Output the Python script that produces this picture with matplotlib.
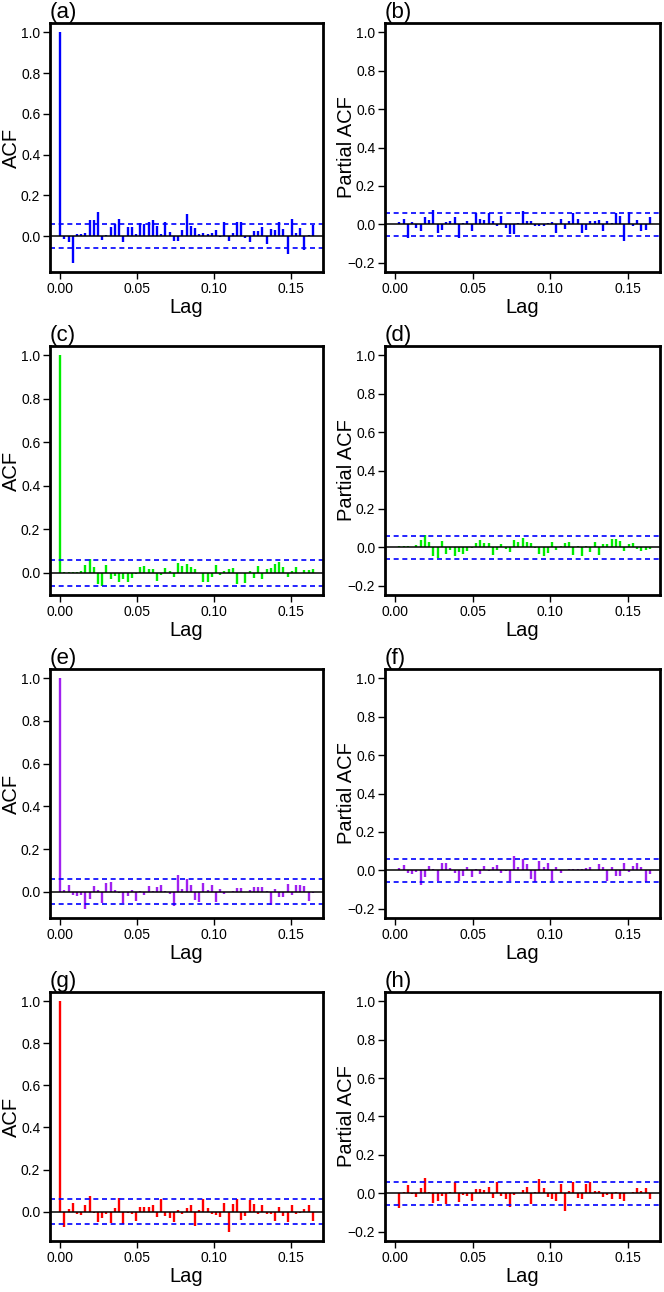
import matplotlib
matplotlib.use('Agg')
import matplotlib.pyplot as plt
import numpy as np

plt.rcParams.update({
    'font.family': ['Liberation Sans', 'DejaVu Sans'],
    'xtick.labelsize': 10, 'ytick.labelsize': 10,
})

FREQ = 365          # daily series, lag axis in years
N_LAG = 60
CI = 0.059          # 1.96/sqrt(n)

# ACF values for lags 1..60 (lag 0 is 1.0)
acf_a = [-0.015, -0.03, -0.13, 0.012, 0.012, 0.015, 0.08, 0.08, 0.12, -0.018,
         0.005, 0.045, 0.06, 0.085, -0.03, 0.043, 0.043, 0.012, 0.065, 0.06,
         0.07, 0.078, 0.048, 0.01, 0.07, 0.022, -0.025, -0.025, 0.033, 0.108,
         0.05, 0.042, 0.01, 0.018, 0.01, 0.018, 0.033, -0.005, 0.072, -0.025,
         0.018, 0.072, 0.068, -0.01, -0.03, 0.025, 0.028, 0.045, -0.038, 0.035,
         0.03, 0.068, 0.035, -0.085, 0.085, 0.015, 0.04, -0.065, 0.005, 0.055]
pacf_b = [0.01, 0.03, -0.07, 0.01, -0.02, -0.035, 0.04, 0.025, 0.075, -0.045,
          -0.03, 0.012, 0.015, 0.04, -0.07, 0.005, 0.02, -0.035, 0.06, 0.03,
          0.025, 0.06, 0.02, -0.01, 0.045, -0.02, -0.05, -0.05, 0.005, 0.07,
          0.02, 0.015, -0.01, -0.01, -0.008, 0.005, 0.012, -0.045, 0.03, -0.025,
          0.02, 0.06, 0.03, -0.045, -0.03, 0.015, 0.02, 0.025, -0.035, 0.015,
          0.005, 0.06, 0.045, -0.085, 0.065, -0.01, 0.025, -0.035, -0.03, 0.04]
acf_c = [0.005, 0.005, 0.005, 0.003, 0.01, 0.038, 0.065, 0.028, -0.05, -0.058,
         0.035, -0.03, -0.012, -0.04, -0.028, -0.04, -0.022, -0.003, 0.025, 0.032,
         0.02, 0.02, -0.038, -0.01, 0.022, 0.01, -0.018, 0.045, 0.03, 0.043,
         0.028, 0.02, -0.002, -0.04, -0.04, -0.02, 0.037, -0.01, 0.01, 0.018,
         0.022, -0.05, -0.002, -0.045, 0.01, -0.022, 0.032, -0.027, 0.017, 0.022,
         0.043, 0.05, 0.028, -0.02, 0.01, 0.028, -0.002, 0.012, 0.012, 0.018]
pacf_d = [0.005, 0.005, 0.005, 0.003, 0.01, 0.036, 0.065, 0.027, -0.046, -0.058,
          0.034, -0.033, -0.015, -0.046, -0.026, -0.033, -0.02, -0.003, 0.022, 0.036,
          0.022, 0.022, -0.038, -0.012, 0.019, -0.01, -0.026, 0.04, 0.03, 0.048,
          0.03, 0.022, -0.005, -0.035, -0.046, -0.03, 0.027, -0.012, 0.005, 0.022,
          0.03, -0.038, 0.008, -0.046, 0.008, -0.024, 0.029, -0.038, 0.017, 0.02,
          0.043, 0.046, 0.034, -0.02, 0.02, 0.022, -0.008, -0.02, -0.016, -0.007]
acf_e = [0.01, 0.03, -0.017, -0.019, -0.014, -0.08, -0.033, 0.025, 0.006, -0.054,
         0.041, 0.044, 0.01, -0.006, -0.055, -0.019, 0.01, -0.043, 0.005, -0.014,
         0.028, 0.005, 0.02, 0.033, 0.005, -0.011, -0.065, 0.077, 0.014, 0.06,
         0.033, -0.038, -0.046, 0.04, 0.01, 0.033, -0.05, 0.011, -0.011, -0.002,
         0.005, 0.016, 0.016, -0.002, 0.01, 0.02, 0.02, 0.024, 0.005, -0.062,
         0.011, -0.025, -0.027, 0.036, -0.014, 0.03, 0.032, 0.025, -0.043, -0.006]
pacf_f = [0.012, 0.027, -0.015, -0.017, -0.01, -0.078, -0.032, 0.024, 0.007, -0.056,
          0.036, 0.036, 0.01, -0.015, -0.053, -0.027, 0.015, -0.036, 0.007, -0.019,
          0.024, -0.002, 0.015, 0.029, -0.015, -0.002, -0.053, 0.073, 0.019, 0.058,
          0.032, -0.044, -0.061, 0.049, 0.015, 0.036, -0.053, 0.015, -0.015, 0.003,
          0.005, 0.005, 0.007, 0.005, 0.012, 0.02, 0.003, 0.032, 0.015, -0.058,
          0.015, -0.027, -0.027, 0.036, -0.01, 0.024, 0.036, 0.019, -0.061, -0.019]
acf_g = [-0.075, 0.011, 0.043, -0.013, -0.016, 0.029, 0.075, -0.008, -0.048, -0.029,
         -0.013, -0.056, 0.016, 0.064, -0.059, -0.008, -0.013, -0.045, 0.021, 0.024,
         0.022, 0.029, -0.027, 0.059, -0.019, -0.032, -0.048, 0.008, -0.01, 0.016,
         0.032, -0.067, 0.008, 0.059, 0.016, -0.011, -0.016, -0.024, 0.04, -0.096,
         0.037, 0.059, -0.04, -0.019, 0.056, 0.035, -0.01, 0.029, -0.011, -0.011,
         -0.043, 0.024, -0.019, -0.048, 0.032, -0.01, -0.008, 0.014, 0.03, -0.043]
pacf_h = [-0.076, 0.007, 0.042, -0.005, -0.018, 0.026, 0.079, 0.009, -0.049, -0.04,
          -0.016, -0.055, 0.009, 0.06, -0.046, -0.009, -0.014, -0.04, 0.021, 0.021,
          0.018, 0.035, -0.023, 0.06, -0.014, -0.032, -0.07, -0.009, 0.004, 0.018,
          0.033, -0.058, 0.007, 0.074, 0.026, -0.018, -0.028, -0.04, 0.051, -0.09,
          0.012, 0.06, -0.023, -0.032, 0.051, 0.06, 0.012, 0.012, -0.018, -0.009,
          -0.028, 0.007, -0.028, -0.04, 0.004, 0.007, 0.026, 0.012, 0.026, -0.028]

colors = ['#0000FF', '#00EE00', '#A020F0', '#FF0000']
acf_list = [acf_a, acf_c, acf_e, acf_g]
pacf_list = [pacf_b, pacf_d, pacf_f, pacf_h]
panel_labels = [('(a)', '(b)'), ('(c)', '(d)'), ('(e)', '(f)'), ('(g)', '(h)')]

W, H = 664, 1292
fig = plt.figure(figsize=(W / 100, H / 100), dpi=100)


def r_range(lo, hi):
    pad = 0.04 * (hi - lo)
    return lo - pad, hi + pad


def draw(ax, lags, vals, col, ylim, ylabel, label, ylab_x):
    ax.vlines(lags, 0, vals, color=col, lw=1.7)
    ax.axhline(0, color='black', lw=1.1)
    for c in (CI, -CI):
        ax.axhline(c, color='#0000FF', lw=1.2, ls=(0, (3, 2.2)))
    ax.set_xlim(*r_range(0, N_LAG / FREQ))
    ax.set_ylim(*ylim)
    ax.set_xticks([0, 0.05, 0.10, 0.15])
    ax.set_xticklabels(['0.00', '0.05', '0.10', '0.15'])
    yt = np.arange(-0.2, 1.01, 0.2)
    yt = yt[yt >= ylim[0]]
    ax.set_yticks(yt)
    ax.set_yticklabels([f'{v:.1f}'.replace('-', '\u2212') for v in yt])
    ax.tick_params(direction='out', length=5, width=1, pad=2)
    for s in ax.spines.values():
        s.set_linewidth(2.0)
    ax.set_xlabel('Lag', fontsize=14.5)
    ax.set_ylabel(ylabel, fontsize=14.5)
    ax.xaxis.set_label_coords(0.5, -0.104)
    ax.yaxis.set_label_coords(ylab_x, 0.5)
    ax.text(0, 1.0, label, transform=ax.transAxes, ha='left', va='bottom',
            fontsize=16)


for row in range(4):
    top = 23 + 323 * row
    bottom = 272 + 323 * row
    h = (bottom - top) / H
    y0 = 1 - bottom / H
    col = colors[row]

    ax1 = fig.add_axes([50 / W, y0, 273 / W, h])
    acf_vals = [1.0] + acf_list[row]
    lags0 = np.arange(N_LAG + 1) / FREQ
    ylim = r_range(min(min(acf_vals), -CI), 1.0)
    draw(ax1, lags0, acf_vals, col, ylim, 'ACF', panel_labels[row][0], -0.108)

    ax2 = fig.add_axes([385 / W, y0, 275 / W, h])
    lags1 = np.arange(1, N_LAG + 1) / FREQ
    draw(ax2, lags1, pacf_list[row], col, r_range(-0.2, 1.0), 'Partial ACF',
         panel_labels[row][1], -0.106)

fig.savefig('out.png', dpi=100)
